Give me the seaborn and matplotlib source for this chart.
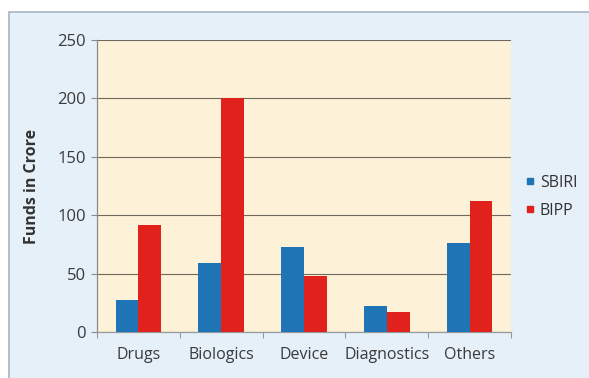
import matplotlib
matplotlib.use("Agg")
import matplotlib.pyplot as plt
from matplotlib.patches import Rectangle
from matplotlib.lines import Line2D
from matplotlib.ticker import FixedLocator
import numpy as np
import pandas as pd
import seaborn as sns

# Funding by product category for the two schemes
categories = ["Drugs", "Biologics", "Device", "Diagnostics", "Others"]
sbiri = [27, 59, 73, 22, 76]
bipp = [92, 200, 48, 17, 112]
schemes = ["SBIRI", "BIPP"]
y_ticks = [0, 50, 100, 150, 200, 250]

BLUE = "#1f74b6"
RED = "#e1211c"
TEXT = "#3a3a3a"

df = pd.DataFrame({
    "category": categories * 2,
    "funds": sbiri + bipp,
    "scheme": [schemes[0]] * len(categories) + [schemes[1]] * len(categories),
})

sns.set_theme(style="white")
plt.rcParams["font.family"] = ["Open Sans", "DejaVu Sans"]

fig = plt.figure(figsize=(5.89, 3.78), dpi=100)
fig.patch.set_facecolor("white")

# light blue chart panel behind the axes
panel = Rectangle((9 / 589, -0.01), 1.0, (378 - 12) / 378 + 0.01,
                  transform=fig.transFigure, facecolor="#e5f0f9",
                  edgecolor="#a7b6c4", linewidth=1.2, zorder=-10)
fig.add_artist(panel)

ax = fig.add_axes([97 / 589, 1 - 332 / 378, (511 - 97) / 589, (332 - 40) / 378])
ax.set_zorder(5)
ax.set_facecolor("#fdf1d8")

sns.barplot(data=df, x="category", y="funds", hue="scheme",
            palette=[BLUE, RED], width=0.55, saturation=1,
            edgecolor="none", ax=ax, legend=False, zorder=3)

ax.set_ylim(0, 250)
ax.set_xlim(-0.5, len(categories) - 0.5)
ax.yaxis.set_major_locator(FixedLocator(y_ticks))
ax.grid(axis="y", color="#6e6a5c", linewidth=0.8, zorder=1)
ax.set_axisbelow(True)

for side in ["top", "right"]:
    ax.spines[side].set_visible(False)
ax.spines["left"].set_color("#8a8a8a")
ax.spines["bottom"].set_color("#9a9a9a")
ax.spines["left"].set_linewidth(0.9)
ax.spines["bottom"].set_linewidth(0.9)

ax.tick_params(axis="y", length=4, width=0.8, color="#8a8a8a",
               labelsize=12, labelcolor=TEXT, pad=4, left=True)
ax.tick_params(axis="x", length=0, labelsize=11.5, labelcolor=TEXT, pad=11)
ax.set_xticks(np.arange(-0.5, len(categories), 1.0), minor=True)
ax.tick_params(axis="x", which="minor", length=4, width=0.8,
               color="#9a9a9a", bottom=True)

ax.set_xlabel("")
ax.set_ylabel("Funds in Crore", fontsize=11.5, fontweight="bold",
              color="#333333", labelpad=12)

handles = [Line2D([0], [0], marker="s", linestyle="none", markersize=4,
                  markerfacecolor=c, markeredgecolor=c)
           for c in (BLUE, RED)]
fig.legend(handles, schemes, loc="center left",
           bbox_to_anchor=(511 / 589, 1 - 197 / 378), frameon=False,
           fontsize=11.5, handlelength=0.6, handletextpad=0.3,
           labelspacing=0.75, labelcolor="#333333")

fig.savefig("out.png", dpi=100)
